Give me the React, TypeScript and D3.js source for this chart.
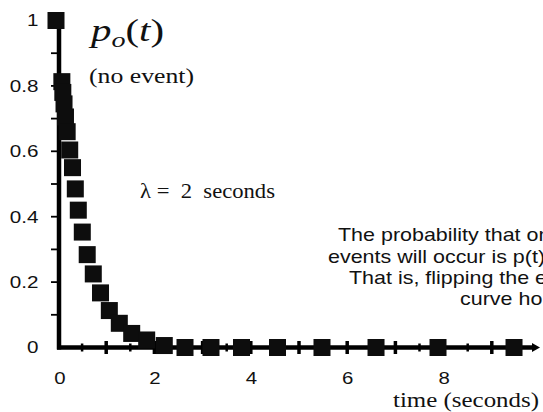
import React from "react";
import * as d3 from "d3";

// Sampled survival probability p_o(t) for λ = 2 (time in seconds)
const times = [
  0, 0.08, 0.1, 0.125, 0.155, 0.19, 0.243, 0.301, 0.359, 0.421, 0.504, 0.606,
  0.732, 0.882, 1.065, 1.272, 1.529, 1.84, 2.205, 2.635, 3.174, 3.807, 4.554,
  5.477, 6.598, 7.884, 9.461,
];
const probs = [
  1.0, 0.813, 0.78, 0.745, 0.705, 0.66, 0.604, 0.55, 0.485, 0.42, 0.353, 0.284,
  0.225, 0.167, 0.113, 0.074, 0.043, 0.023, 0.006, 0, 0, 0, 0, 0, 0, 0, 0,
];

const yTickLabels = ["0", "0.2", "0.4", "0.6", "0.8", "1"];
const yTickValues = [0, 0.2, 0.4, 0.6, 0.8, 1];
const yMinorTicks = [0.1, 0.2, 0.3, 0.4, 0.5, 0.6, 0.7, 0.8, 0.9];
const xTickLabels = ["0", "2", "4", "6", "8"];
const xTickValues = [0, 2, 4, 6, 8];
const xMinorTicks = d3.range(0.5, 10, 0.5);

const noteLines = [
  "The probability that on",
  "events will occur is p(t)",
  "That is, flipping the ex",
  "curve ho",
];

const W = 543;
const H = 412;
const SANS = "'Liberation Sans', Arial, Helvetica, sans-serif";
const SERIF = "'Liberation Serif', 'Times New Roman', Times, serif";

export default function App() {
  const x = d3.scaleLinear().domain([0, 10]).range([58, 540]);
  const y = d3.scaleLinear().domain([0, 1]).range([347.5, 20.5]);
  const sq = 17;
  const pts = times.map((t, i) => ({ t, p: probs[i] }));
  const noteStarts = [338, 328, 349, 460];
  const noteBaselines = [241, 262.5, 284, 305];

  return (
    <svg
      width={W}
      height={H}
      style={{ position: "absolute", left: 0, top: 0, background: "#fff" }}
    >
      {/* y axis */}
      <line x1={x(0) + 1} x2={x(0) + 1} y1={y(1)} y2={y(0) + 2} stroke="#000" strokeWidth={4.5} />
      {yMinorTicks.map((v) => (
        <line key={"ym" + v} x1={51} x2={x(0)} y1={y(v)} y2={y(v)} stroke="#000" strokeWidth={1.8} />
      ))}
      {yTickValues.map((v, i) => (
        <text
          key={"yl" + v}
          transform={`translate(38.5,${y(v)}) scale(1.25,1)`}
          textAnchor="end"
          dy="0.36em"
          fontFamily={SANS}
          fontSize={16.5}
          fill="#111"
        >
          {yTickLabels[i]}
        </text>
      ))}

      {/* x axis with arrow */}
      <line x1={x(0) - 1} x2={535} y1={y(0)} y2={y(0)} stroke="#000" strokeWidth={4.5} />
      <path d={`M532,${y(0) - 4.5} L540,${y(0)} L532,${y(0) + 4.5} Z`} fill="#000" />
      {xMinorTicks.map((v) => {
        const major = Number.isInteger(v);
        const h = major ? 6.5 : 4;
        return (
          <line
            key={"xm" + v}
            x1={x(v)}
            x2={x(v)}
            y1={y(0) - h}
            y2={y(0) + h}
            stroke="#000"
            strokeWidth={major ? 3.5 : 2.5}
          />
        );
      })}
      {xTickValues.map((v, i) => (
        <text
          key={"xl" + v}
          transform={`translate(${x(v) + (v === 0 ? 2 : 0.5)},384) scale(1.2,1)`}
          textAnchor="middle"
          fontFamily={SANS}
          fontSize={17}
          fill="#111"
        >
          {xTickLabels[i]}
        </text>
      ))}

      {/* data markers */}
      {pts.map((d, i) => (
        <rect
          key={"pt" + i}
          x={x(d.t) - sq / 2 - (i === 0 ? 2 : 0)}
          y={y(d.p) - sq / 2}
          width={sq}
          height={sq}
          fill="#0d0d0d"
        />
      ))}

      {/* title */}
      <text x={91} y={41} fontFamily={SERIF} fontSize={32} fill="#111" textLength={73} lengthAdjust="spacingAndGlyphs">
        <tspan fontStyle="italic">p</tspan>
        <tspan fontStyle="italic" fontSize={22} dy={6}>o</tspan>
        <tspan dy={-6}>(</tspan>
        <tspan fontStyle="italic">t</tspan>
        <tspan>)</tspan>
      </text>
      <text x={89} y={82.5} fontFamily={SERIF} fontSize={20} fill="#111" textLength={105} lengthAdjust="spacingAndGlyphs">
        (no event)
      </text>

      <text x={140} y={198} fontFamily={SERIF} fontSize={22} fill="#111" textLength={135} lengthAdjust="spacingAndGlyphs" style={{ whiteSpace: "pre" }}>
        {"λ =  2  seconds"}
      </text>

      {/* annotation, running off the right edge */}
      {noteLines.map((s, i) => (
        <text
          key={"n" + i}
          transform={`translate(${noteStarts[i]},${noteBaselines[i]}) scale(1.13,1)`}
          fontFamily={SANS}
          fontSize={19}
          fill="#111"
        >
          {s}
        </text>
      ))}

      <text x={393} y={407} fontFamily={SERIF} fontSize={21} fill="#111" textLength={146} lengthAdjust="spacingAndGlyphs">
        time (seconds)
      </text>
    </svg>
  );
}
